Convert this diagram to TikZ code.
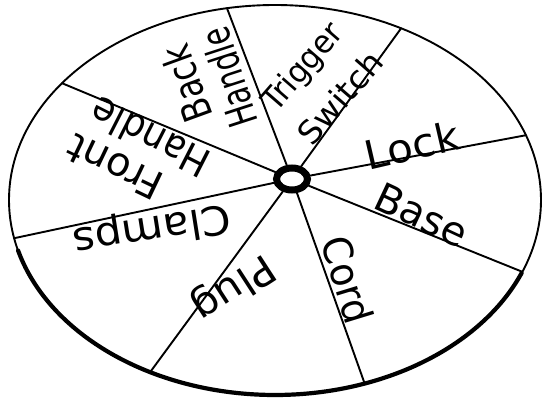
\documentclass[tikz,border=0pt]{standalone}
\usepackage{fontspec}
\usepackage{graphicx}
\setmainfont{DejaVu Sans}
\usetikzlibrary{shapes.geometric}
\begin{document}
\begin{tikzpicture}[x=1pt,y=-1pt,
  rim/.style={line width=1.9pt},
  rimheavy/.style={line width=4.2pt, line cap=round},
  spoke/.style={line width=1.9pt, line cap=round},
  hubring/.style={ellipse, draw, fill=white, line width=7pt, minimum width=31pt, minimum height=22pt, inner sep=0pt},
  lbl/.style={font=\fontsize{40}{44}\selectfont, inner sep=0pt},
  lblsm/.style={font=\fontsize{32}{36}\selectfont, inner sep=0pt}]
\useasboundingbox (0,0) rectangle (542,407);
\fill[white] (0,0) rectangle (542,407);
% rim
\draw[rim] (275,200) ellipse [x radius=266pt, y radius=195pt];
\draw[rimheavy] plot[domain=22:165,samples=80,smooth] ({275+266*cos(\x)},{200+195*sin(\x)});
% rim points
\coordinate (e1) at ({275+266*cos(-100.4)},{200+195*sin(-100.4)});
\coordinate (e2) at ({275+266*cos(-61.7)},{200+195*sin(-61.7)});
\coordinate (e3) at ({275+266*cos(-19.4)},{200+195*sin(-19.4)});
\coordinate (e4) at ({275+266*cos(21.6)},{200+195*sin(21.6)});
\coordinate (e5) at ({275+266*cos(70.3)},{200+195*sin(70.3)});
\coordinate (e6) at ({275+266*cos(118)},{200+195*sin(118)});
\coordinate (e7) at ({275+266*cos(168.7)},{200+195*sin(168.7)});
\coordinate (e8) at ({275+266*cos(-143.2)},{200+195*sin(-143.2)});
% hub
\node[hubring] (hub) at (292,179) {};
\foreach \i in {1,...,8} \draw[spoke] (hub) -- (e\i);
% labels
\node[lbl, rotate=110] (back) at (186,84) {\scalebox{0.8}[1]{Back}};
\node[lbl, rotate=108] (bhandle) at (229,78) {\scalebox{0.72}[1]{Handle}};
\node[lblsm, rotate=49] (trigger) at (304,68) {\scalebox{0.95}[1]{Trigger}};
\node[lblsm, rotate=49] (switch) at (340,98) {\scalebox{1.05}[1]{Switch}};
\node[lbl, rotate=13] (lock) at (412,145) {\scalebox{1.05}[1]{Lock}};
\node[lbl, rotate=-25] (base) at (422,215) {Base};
\node[lbl, rotate=-73] (cord) at (348,280) {\scalebox{0.95}[1]{Cord}};
\node[lbl, rotate=213] (plug) at (233,287) {\scalebox{1.05}[1]{Plug}};
\node[lbl, rotate=189] (clamps) at (152,228) {\scalebox{1.07}[1]{Clamps}};
\node[lbl, rotate=154.5] (front) at (115,167) {Front};
\node[lbl, rotate=153] (fhandle) at (150,138) {\scalebox{0.9}[1]{Handle}};
\end{tikzpicture}
\end{document}
